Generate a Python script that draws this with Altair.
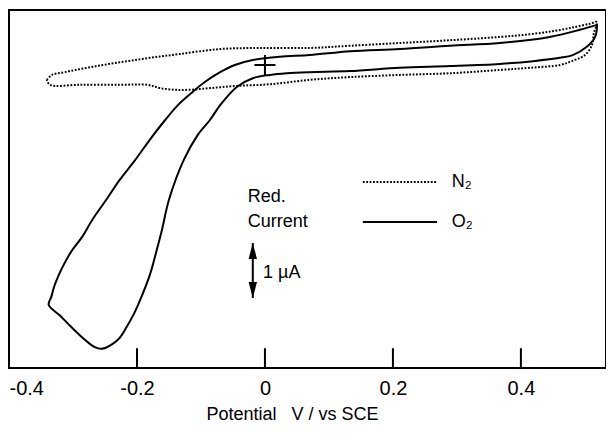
import altair as alt
import pandas as pd

# ---- data (potential in V vs SCE, current in µA) ----
n2_v = [-0.341, -0.333, -0.313, -0.273, -0.227, -0.180, -0.133, -0.070, -0.008, 0.070,
        0.133, 0.211, 0.289, 0.367, 0.414, 0.453, 0.484, 0.508, 0.519, 0.514,
        0.511, 0.500, 0.484, 0.461, 0.414, 0.367, 0.289, 0.211, 0.133, 0.070,
        0.008, -0.044, -0.086, -0.117, -0.141, -0.164, -0.184, -0.227, -0.289, -0.336,
        -0.341]
n2_i = [-0.27, -0.18, -0.13, -0.04, 0.05, 0.13, 0.20, 0.29, 0.31, 0.31,
        0.35, 0.40, 0.45, 0.51, 0.56, 0.62, 0.69, 0.75, 0.78, 0.58,
        0.36, 0.18, 0.09, 0.00, -0.05, -0.09, -0.15, -0.18, -0.22, -0.27,
        -0.35, -0.38, -0.42, -0.45, -0.45, -0.42, -0.36, -0.36, -0.36, -0.36,
        -0.27]

o2_v = [0.519, 0.492, 0.445, 0.367, 0.289, 0.211, 0.133, 0.070, 0.023, -0.019,
        -0.047, -0.070, -0.094, -0.113, -0.136, -0.156, -0.180, -0.203, -0.227, -0.248,
        -0.269, -0.286, -0.302, -0.314, -0.323, -0.330, -0.334, -0.338, -0.320, -0.303,
        -0.281, -0.266, -0.255, -0.238, -0.227, -0.216, -0.205, -0.195, -0.180, -0.169,
        -0.161, -0.150, -0.127, -0.105, -0.086, -0.070, -0.044, -0.019, 0.008, 0.034,
        0.070, 0.133, 0.211, 0.289, 0.367, 0.419, 0.461, 0.481, 0.503, 0.516,
        0.519]
o2_i = [0.73, 0.64, 0.51, 0.40, 0.35, 0.29, 0.25, 0.18, 0.15, 0.09,
        0.00, -0.13, -0.31, -0.49, -0.73, -1.00, -1.36, -1.73, -2.09, -2.45,
        -2.80, -3.13, -3.38, -3.62, -3.84, -4.05, -4.22, -4.36, -4.56, -4.76,
        -5.00, -5.13, -5.16, -5.07, -4.96, -4.76, -4.53, -4.27, -3.82, -3.36,
        -3.00, -2.45, -1.73, -1.27, -1.00, -0.73, -0.40, -0.24, -0.18, -0.15,
        -0.13, -0.11, -0.05, -0.02, 0.02, 0.07, 0.13, 0.18, 0.33, 0.51,
        0.73]

tick_values = [-0.4, -0.2, 0, 0.2, 0.4]
inner_ticks = [-0.2, 0, 0.2, 0.4]
x_domain = [-0.4, 0.533]
y_domain = [-5.509, 1.0]

legend_labels = ["N\u2082", "O\u2082"]
legend_y = [-2.127, -2.855]
side_labels = ["Red.", "Current"]
side_y = [-2.40, -2.855]
scale_label = "1 \u00b5A"
scale_bar = [-3.236, -4.236]  # 1 µA

FONT = "Liberation Sans"

n2 = pd.DataFrame({"v": n2_v, "i": n2_i, "idx": range(len(n2_v))})
o2 = pd.DataFrame({"v": o2_v, "i": o2_i, "idx": range(len(o2_v))})

xs = alt.Scale(domain=x_domain, nice=False, zero=False)
ys = alt.Scale(domain=y_domain, nice=False, zero=False)

x_axis = alt.Axis(
    values=tick_values, domain=False, ticks=False, tickSize=0, grid=False,
    labelFlush=True, labelPadding=10, labelFontSize=20, labelFont=FONT,
    labelColor="black",
    labelExpr="datum.value == 0 ? '0' : (datum.value < 0 ? '-' : '') + format(abs(datum.value), '.1f')",
    title="Potential\u00a0\u00a0 V / vs SCE", titleFont=FONT, titleFontSize=18,
    titleFontWeight="normal", titleColor="black", titleX=283, titleY=51,
    titleBaseline="alphabetic", titleAlign="center",
)

X = lambda f: alt.X(f, type="quantitative", scale=xs, axis=x_axis)
Y = lambda f: alt.Y(f, type="quantitative", scale=ys, axis=None)

n2_line = alt.Chart(n2).mark_line(
    interpolate="catmull-rom", color="black", strokeWidth=2,
    strokeDash=[1.8, 1.6], strokeCap="butt"
).encode(x=X("v"), y=Y("i"), order="idx:Q")

o2_line = alt.Chart(o2).mark_line(
    interpolate="catmull-rom", color="black", strokeWidth=2
).encode(x=X("v"), y=Y("i"), order="idx:Q")

ticks_df = pd.DataFrame({"v": inner_ticks, "y0": y_domain[0], "y1": y_domain[0] + 0.36})
ticks = alt.Chart(ticks_df).mark_rule(color="black", strokeWidth=2).encode(
    x=X("v"), y=Y("y0"), y2="y1:Q")

cross = alt.Chart(pd.DataFrame({"v": [0.0], "i": [0.0]})).mark_point(
    shape="M-1,0L1,0M0,-0.95L0,0.95", size=441, filled=False, color="black",
    strokeWidth=2, opacity=1
).encode(x=X("v"), y=Y("i"))

leg_df = pd.DataFrame({"x0": [0.153, 0.153], "x1": [0.269, 0.269], "y": legend_y,
                       "lab": legend_labels, "lx": [0.292, 0.292]})
leg_n2 = alt.Chart(leg_df.iloc[[0]]).mark_rule(
    color="black", strokeWidth=2, strokeDash=[1.8, 1.6], strokeCap="butt"
).encode(x=X("x0"), x2="x1:Q", y=Y("y"))
leg_o2 = alt.Chart(leg_df.iloc[[1]]).mark_rule(color="black", strokeWidth=2).encode(
    x=X("x0"), x2="x1:Q", y=Y("y"))
leg_text = alt.Chart(leg_df).mark_text(
    align="left", baseline="middle", font=FONT, fontSize=18, color="black"
).encode(x=X("lx"), y=Y("y"), text="lab:N")

side_df = pd.DataFrame({"x": [-0.027, -0.027], "y": side_y, "lab": side_labels})
side_text = alt.Chart(side_df).mark_text(
    align="left", baseline="middle", font=FONT, fontSize=18, color="black"
).encode(x=X("x"), y=Y("y"), text="lab:N")

bar_df = pd.DataFrame({"x": [-0.019], "y0": [scale_bar[0]], "y1": [scale_bar[1]]})
bar = alt.Chart(bar_df).mark_rule(color="black", strokeWidth=2).encode(
    x=X("x"), y=Y("y0"), y2="y1:Q")
head_up = alt.Chart(bar_df).mark_point(
    shape="M0,0L0.42,1.6L-0.42,1.6Z", size=400, filled=True, color="black", opacity=1
).encode(x=X("x"), y=Y("y0"))
head_dn = alt.Chart(bar_df).mark_point(
    shape="M0,0L0.42,-1.6L-0.42,-1.6Z", size=400, filled=True, color="black", opacity=1
).encode(x=X("x"), y=Y("y1"))
bar_text = alt.Chart(pd.DataFrame({"x": [-0.003], "y": [-3.78], "lab": [scale_label]})).mark_text(
    align="left", baseline="middle", font=FONT, fontSize=18, color="black"
).encode(x=X("x"), y=Y("y"), text="lab:N")

chart = alt.layer(
    n2_line, o2_line, ticks, cross, leg_n2, leg_o2, leg_text, side_text,
    bar, head_up, head_dn, bar_text
).properties(
    width=597, height=358,
    autosize=alt.AutoSizeParams(type="none"),
    padding={"left": 1, "top": 2, "right": 0, "bottom": 56},
    background="white",
).configure_view(stroke="black", strokeWidth=2)

chart.save("out.html", embed_options={"renderer": "svg", "actions": False})
